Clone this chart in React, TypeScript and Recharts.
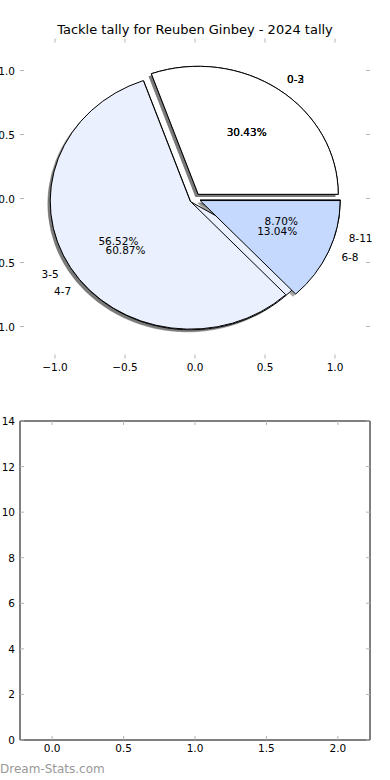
import React from "react";
import { PieChart, Pie, Cell, ScatterChart, Scatter, XAxis, YAxis } from "recharts";

// two tallies drawn on top of each other, as in the source image
const tallyA = ["0-2", "3-5", "6-8"];
const countsA = [7, 13, 3];
const tallyB = ["0-3", "4-7", "8-11"];
const countsB = [7, 14, 2];

const pieTicks = [-1, -0.5, 0, 0.5, 1];
const lowerXTicks = [0, 0.5, 1, 1.5, 2];
const lowerYTicks = [0, 2, 4, 6, 8, 10, 12, 14];

const sliceColors = ["#ffffff", "#eaf0fd", "#c5d8fd"];
const FONT = "'DejaVu Sans', sans-serif";
const RAD = Math.PI / 180;
const SQUASH = 128 / 140; // axes aren't equal-aspect so the pie is an ellipse
const EXPLODE = 0.04;
const TICK = "#b4b4b4";

const dataA = tallyA.map((name, i) => ({ name, value: countsA[i] }));
const dataB = tallyB.map((name, i) => ({ name, value: countsB[i] }));

function wedgePath(cx: number, cy: number, r: number, a0: number, a1: number) {
  const ry = r * SQUASH;
  const x0 = cx + r * Math.cos(a0 * RAD);
  const y0 = cy - ry * Math.sin(a0 * RAD);
  const x1 = cx + r * Math.cos(a1 * RAD);
  const y1 = cy - ry * Math.sin(a1 * RAD);
  const large = Math.abs(a1 - a0) > 180 ? 1 : 0;
  return `M${cx},${cy} L${x0},${y0} A${r},${ry} 0 ${large} 0 ${x1},${y1} Z`;
}

const wedge = (shadow: boolean) => (p: any) => {
  const { cx, cy, outerRadius: r, startAngle, endAngle } = p;
  const m = (startAngle + endAngle) / 2;
  let ox = EXPLODE * r * Math.cos(m * RAD);
  let oy = -EXPLODE * r * SQUASH * Math.sin(m * RAD);
  if (shadow) {
    ox -= 0.02 * r;
    oy += 0.02 * r * SQUASH;
  }
  const d = wedgePath(cx + ox, cy + oy, r, startAngle, endAngle);
  if (shadow) return <path d={d} fill="#4d4d4d" fillOpacity={0.5} stroke="none" />;
  return <path d={d} fill={p.fill} stroke="#000" strokeWidth={1} strokeLinejoin="miter" />;
};

const nothing = () => <g />;

const sliceText = (p: any) => {
  const { cx, cy, outerRadius: r, midAngle: m, percent } = p;
  const name = p.payload?.name ?? p.name;
  const c = Math.cos(m * RAD);
  const s = Math.sin(m * RAD);
  const ex = cx + EXPLODE * r * c;
  const ey = cy - EXPLODE * r * SQUASH * s;
  const txt = { fontFamily: FONT, fontSize: 10.5, fill: "#000", dominantBaseline: "central" as const };
  return (
    <g>
      <text x={ex + 1.1 * r * c} y={ey - 1.1 * r * SQUASH * s} textAnchor={c < 0 ? "end" : "start"} {...txt}>
        {name}
      </text>
      <text x={ex + 0.6 * r * c} y={ey - 0.6 * r * SQUASH * s} textAnchor="middle" {...txt}>
        {(percent * 100).toFixed(2)}%
      </text>
    </g>
  );
};

const fmtPie = (v: number) => v.toFixed(1).replace("-", "\u2212");
const fmtX = (v: number) => v.toFixed(1);
const fmtInt = (v: number) => String(v);

const makeTick = (side: string, fmt?: (v: number) => string) => (p: any) => {
  const { x, y, payload } = p;
  const v = payload.value;
  const L = 4;
  const label = fmt ? fmt(v) : null;
  const txt = { fontFamily: FONT, fontSize: 10.5, fill: "#000" };
  if (side === "bottom")
    return (
      <g>
        <line x1={x} y1={y} x2={x} y2={y - L} stroke={TICK} />
        {label && <text x={x} y={y + 8} textAnchor="middle" dominantBaseline="central" {...txt}>{label}</text>}
      </g>
    );
  if (side === "top") return <line x1={x} y1={y} x2={x} y2={y + L} stroke={TICK} />;
  if (side === "left")
    return (
      <g>
        <line x1={x} y1={y} x2={x + L} y2={y} stroke={TICK} />
        {label && <text x={x - 5} y={y} textAnchor="end" dominantBaseline="central" {...txt}>{label}</text>}
      </g>
    );
  return <line x1={x} y1={y} x2={x - L} y2={y} stroke={TICK} />;
};

const abs = (top: number): React.CSSProperties => ({ position: "absolute", left: 0, top });

export default function App() {
  return (
    <div style={{ position: "absolute", left: 0, top: 0, width: 390, height: 780, background: "#fff", overflow: "hidden" }}>
      <div style={{ ...abs(22), width: 390, textAlign: "center", fontFamily: FONT, fontSize: 13, lineHeight: "16px" }}>
        Tackle tally for Reuben Ginbey - 2024 tally
      </div>

      {/* axes of the pie subplot, no frame */}
      <div style={abs(0)}>
        <ScatterChart width={390} height={780} margin={{ top: 0, right: 0, bottom: 0, left: 0 }}>
          <XAxis xAxisId="t" orientation="top" type="number" dataKey="x" domain={[-1.25, 1.25]} ticks={pieTicks} interval={0}
            height={38.5} axisLine={false} tickLine={false} tickSize={0} tickMargin={0} allowDataOverflow tick={makeTick("top")} />
          <XAxis xAxisId="b" orientation="bottom" type="number" dataKey="x" domain={[-1.25, 1.25]} ticks={pieTicks} interval={0}
            height={421.5} axisLine={false} tickLine={false} tickSize={0} tickMargin={0} allowDataOverflow tick={makeTick("bottom", fmtPie)} />
          <YAxis yAxisId="l" orientation="left" type="number" dataKey="y" domain={[-1.25, 1.25]} ticks={pieTicks} interval={0}
            width={20} axisLine={false} tickLine={false} tickSize={0} tickMargin={0} allowDataOverflow tick={makeTick("left", fmtPie)} />
          <YAxis yAxisId="r" orientation="right" type="number" dataKey="y" domain={[-1.25, 1.25]} ticks={pieTicks} interval={0}
            width={20} axisLine={false} tickLine={false} tickSize={0} tickMargin={0} allowDataOverflow tick={makeTick("right")} />
          <Scatter data={[]} xAxisId="b" yAxisId="l" isAnimationActive={false} />
          <Scatter data={[]} xAxisId="t" yAxisId="r" isAnimationActive={false} />
        </ScatterChart>
      </div>

      {/* empty lower subplot */}
      <div style={abs(0)}>
        <ScatterChart width={390} height={780} margin={{ top: 0, right: 0, bottom: 0, left: 0 }}>
          <XAxis xAxisId="t" orientation="top" type="number" dataKey="x" domain={[-0.225, 2.225]} ticks={lowerXTicks} interval={0}
            height={421} axisLine={{ stroke: "#000" }} tickLine={false} tickSize={0} tickMargin={0} allowDataOverflow tick={makeTick("top")} />
          <XAxis xAxisId={0} orientation="bottom" type="number" dataKey="x" domain={[-0.225, 2.225]} ticks={lowerXTicks} interval={0}
            height={40} axisLine={{ stroke: "#000" }} tickLine={false} tickSize={0} tickMargin={0} allowDataOverflow tick={makeTick("bottom", fmtX)} />
          <YAxis yAxisId={0} orientation="left" type="number" dataKey="y" domain={[0, 14]} ticks={lowerYTicks} interval={0}
            width={20} axisLine={{ stroke: "#000" }} tickLine={false} tickSize={0} tickMargin={0} allowDataOverflow tick={makeTick("left", fmtInt)} />
          <YAxis yAxisId="r" orientation="right" type="number" dataKey="y" domain={[0, 14]} ticks={lowerYTicks} interval={0}
            width={20} axisLine={{ stroke: "#000" }} tickLine={false} tickSize={0} tickMargin={0} allowDataOverflow tick={makeTick("right")} />
          <Scatter data={[]} isAnimationActive={false} />
          <Scatter data={[]} xAxisId="t" yAxisId="r" isAnimationActive={false} />
        </ScatterChart>
      </div>

      {/* the pies: shadows, back tally, front tally, then all texts */}
      <div style={abs(0)}>
        <PieChart width={390} height={400} margin={{ top: 0, right: 0, bottom: 0, left: 0 }}>
          <Pie data={dataB} dataKey="value" nameKey="name" cx={195} cy={198.5} outerRadius={140} startAngle={0} endAngle={360}
            isAnimationActive={false} shape={wedge(true)} fill="none" stroke="none" />
          <Pie data={dataA} dataKey="value" nameKey="name" cx={195} cy={198.5} outerRadius={140} startAngle={0} endAngle={360}
            isAnimationActive={false} shape={wedge(true)} fill="none" stroke="none" />
          <Pie data={dataB} dataKey="value" nameKey="name" cx={195} cy={198.5} outerRadius={140} startAngle={0} endAngle={360}
            isAnimationActive={false} shape={wedge(false)}>
            {sliceColors.map((c) => <Cell key={c} fill={c} />)}
          </Pie>
          <Pie data={dataA} dataKey="value" nameKey="name" cx={195} cy={198.5} outerRadius={140} startAngle={0} endAngle={360}
            isAnimationActive={false} shape={wedge(false)}>
            {sliceColors.map((c) => <Cell key={c} fill={c} />)}
          </Pie>
          <Pie data={dataB} dataKey="value" nameKey="name" cx={195} cy={198.5} outerRadius={140} startAngle={0} endAngle={360}
            isAnimationActive={false} shape={nothing} fill="none" stroke="none" label={sliceText} labelLine={false} />
          <Pie data={dataA} dataKey="value" nameKey="name" cx={195} cy={198.5} outerRadius={140} startAngle={0} endAngle={360}
            isAnimationActive={false} shape={nothing} fill="none" stroke="none" label={sliceText} labelLine={false} />
        </PieChart>
      </div>

      <div style={{ ...abs(762), fontFamily: FONT, fontSize: 12, color: "#999", lineHeight: "15px" }}>Dream-Stats.com</div>
    </div>
  );
}
